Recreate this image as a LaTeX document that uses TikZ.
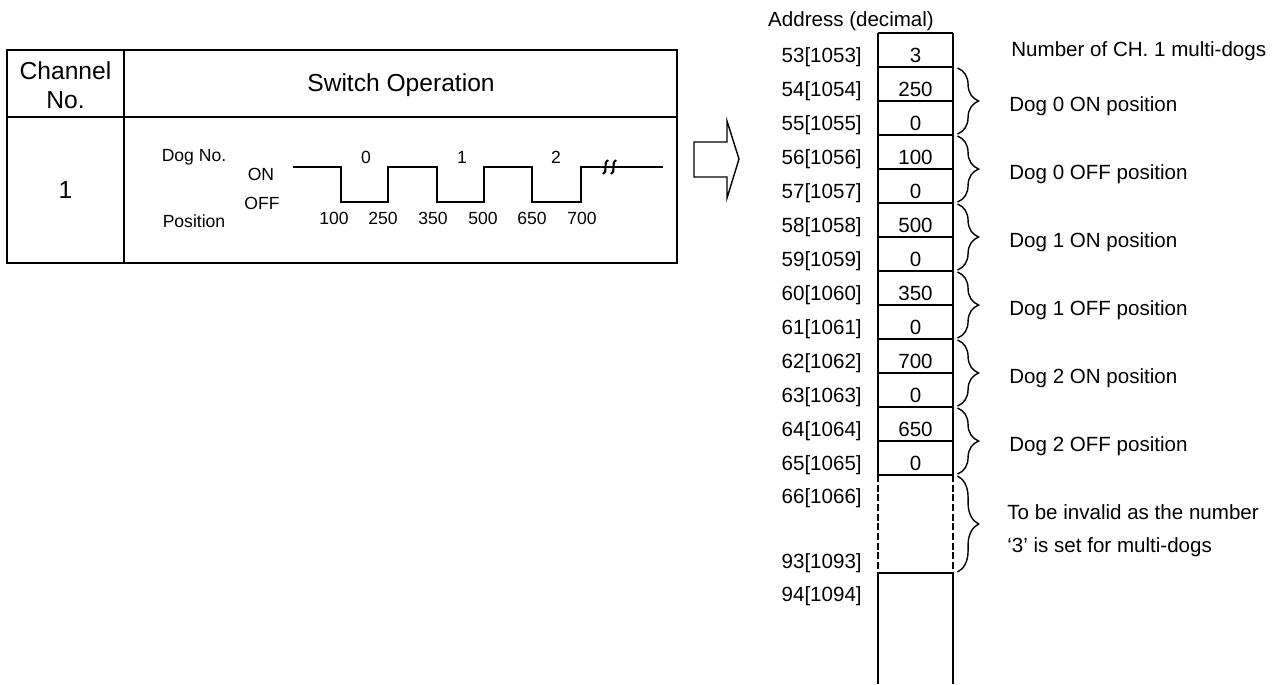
\documentclass[tikz,border=0pt]{standalone}
\usepackage{fontspec}
\setmainfont{Liberation Sans}
\usetikzlibrary{positioning, arrows.meta, calc, decorations.pathreplacing}

\begin{document}
\begin{tikzpicture}[x=0.02cm, y=-0.02cm,
    every node/.style={inner sep=0pt, font=\fontsize{11.7}{14}\selectfont},
    small/.style={font=\fontsize{10}{12}\selectfont},
    big/.style={font=\fontsize{14}{16.5}\selectfont},
    frame/.style={line width=1.6pt},
    cellsep/.style={line width=1.1pt},
    wave/.style={line width=1.2pt},
    mbrace/.style={decorate, decoration={brace, amplitude=12pt, raise=2pt}, line width=0.8pt}]
    \useasboundingbox (0,0) rectangle (1283,684);
    % Table
    \draw[frame] (7,50) rectangle (677,263);
    \draw[frame] (7,117) -- (677,117);
    \draw[frame] (124,50) -- (124,263);
    \node[big, align=center] (chhead) at (65.5,85) {Channel\\No.};
    \node[big] (swhead) at (401,85) {Switch Operation};
    \node[big] (ch1) at (65.5,190) {1};
    % Dog waveform
    \node[small] (dogno) at (194,157) {Dog No.};
    \node[small] (pos) at (194,221) {Position};
    \node[small] (on) at (261,174) {ON};
    \node[small] (off) at (262,203) {OFF};
    \draw[wave] (293,167) -- (341,167) -- (341,202) -- (388,202) -- (388,167)
        -- (437,167) -- (437,202) -- (484,202) -- (484,167)
        -- (532,167) -- (532,202) -- (581,202) -- (581,167) -- (663,167);
    \draw[wave] (608,160) .. controls (603,161) and (608,173) .. (603,174);
    \draw[wave] (616,160) .. controls (611,161) and (616,173) .. (611,174);
    \foreach \x/\d in {366/0, 462/1, 556/2}
        \node[small] (dog\d) at (\x,157) {\d};
    \foreach \x/\v in {334/100, 383/250, 433/350, 483/500, 532/650, 582/700}
        \node[small] (p\v) at (\x,218) {\v};
    % Hollow arrow
    \draw[line width=0.8pt] (694,142) -- (727,142) -- (727,121) -- (739,159)
        -- (727,198) -- (727,177) -- (694,177) -- cycle;
    % Memory map
    \node (addrhead) at (851,21) {Address (decimal)};
    \foreach \i/\v in {0/3, 1/250, 2/0, 3/100, 4/0, 5/500, 6/0, 7/350, 8/0, 9/700, 10/0, 11/650, 12/0} {
        \pgfmathtruncatemacro\adr{53+\i}
        \node[anchor=base east] (addr\i) at (862,{62+34*\i}) {\adr[10\adr]};
        \node[anchor=base] (val\i) at (915.5,{62+34*\i}) {\v};
        \draw[cellsep] (878,{67+34*\i}) -- (953,{67+34*\i});
    }
    \draw[frame] (878,33) -- (953,33);
    \draw[frame] (878,33) -- (878,475);
    \draw[frame] (953,33) -- (953,475);
    \draw[dashed, dash pattern=on 4pt off 1.5pt, line width=0.6pt] (878,475) -- (878,573);
    \draw[dashed, dash pattern=on 4pt off 1.5pt, line width=0.6pt] (953,475) -- (953,573);
    \draw[cellsep] (878,573) -- (953,573);
    \draw[frame] (878,573) -- (878,684);
    \draw[frame] (953,573) -- (953,684);
    \node[anchor=base east] (addr13) at (862,503) {66[1066]};
    \node[anchor=base east] (addr40) at (862,568) {93[1093]};
    \node[anchor=base east] (addr41) at (862,601) {94[1094]};
    % Braces and notes
    \node[anchor=base west] (nummd) at (1011,56) {Number of CH. 1 multi-dogs};
    \foreach \i/\t in {0/Dog 0 ON position, 1/Dog 0 OFF position, 2/Dog 1 ON position,
                       3/Dog 1 OFF position, 4/Dog 2 ON position, 5/Dog 2 OFF position} {
        \draw[mbrace] (954,{68+68*\i}) -- (954,{134+68*\i});
        \node[anchor=base west] (note\i) at (1009,{111+68*\i}) {\t};
    }
    \draw[mbrace] (954,476) -- (954,572);
    \node[anchor=base west] (inval1) at (1007,519) {To be invalid as the number};
    \node[anchor=base west] (inval2) at (1007,552) {`3' is set for multi-dogs};
\end{tikzpicture}
\end{document}
